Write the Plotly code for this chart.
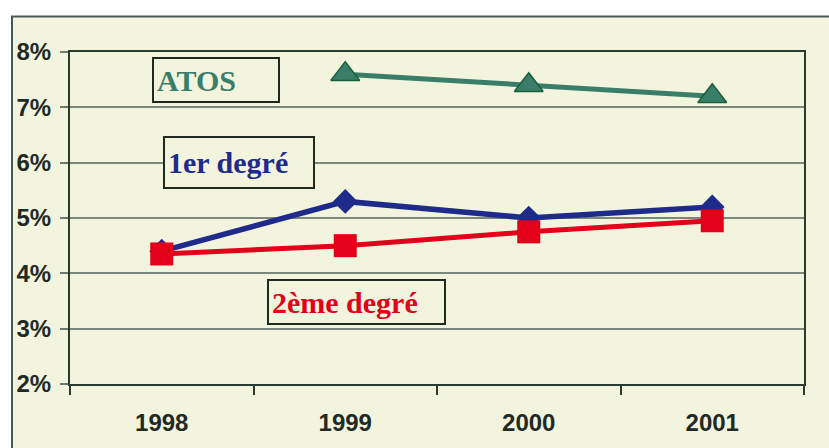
import plotly.graph_objects as go

years = ["1998", "1999", "2000", "2001"]
atos = [None, 7.6, 7.4, 7.2]
premier_degre = [4.4, 5.3, 5.0, 5.2]
second_degre = [4.35, 4.5, 4.75, 4.95]
y_ticks = [2, 3, 4, 5, 6, 7, 8]
y_tick_text = [f"{v}%" for v in y_ticks]

CREAM = "#F3F4DE"
DARK = "#2B3A30"
GREEN = "#3A7E6A"
BLUE = "#1F2B8A"
RED = "#E2001A"

W, H = 829, 448
L, R, T, B = 70, 25, 52, 64
pw, ph = W - L - R, H - T - B

def px(x):
    return (x - L) / pw

def py(y):
    return 1 - (y - T) / ph

fig = go.Figure()
fig.add_trace(go.Scatter(x=years, y=premier_degre, mode="lines+markers",
                         line=dict(color=BLUE, width=5.5),
                         marker=dict(symbol="diamond", size=19, color=BLUE),
                         showlegend=False, cliponaxis=False))
fig.add_trace(go.Scatter(x=years, y=second_degre, mode="lines+markers",
                         line=dict(color=RED, width=5),
                         marker=dict(symbol="square", size=23, color=RED),
                         showlegend=False, cliponaxis=False))
fig.add_trace(go.Scatter(x=years, y=atos, mode="lines+markers",
                         line=dict(color=GREEN, width=5),
                         marker=dict(symbol="triangle-up", size=25, color=GREEN,
                                     line=dict(color="#17603A", width=1.5)),
                         showlegend=False, cliponaxis=False))

# outer cream frame
fig.add_shape(type="rect", xref="paper", yref="paper",
              x0=px(12), x1=px(W + 20), y0=py(H + 20), y1=py(16.5),
              fillcolor=CREAM, line=dict(color="#4A5A50", width=2), layer="below")

boxes = [
    ("ATOS", GREEN, 151.7, 279.3, 56.7, 102.7),
    ("1er degré", BLUE, 163, 315.3, 136, 188.7),
    ("2ème degré", RED, 267.3, 446, 278.7, 324.7),
]
for text, col, x0, x1, y0, y1 in boxes:
    fig.add_annotation(xref="paper", yref="paper",
                       x=px((x0 + x1) / 2), y=py((y0 + y1) / 2),
                       xanchor="center", yanchor="middle",
                       text=text, showarrow=False, align="left",
                       width=x1 - x0 - 10, height=y1 - y0 - 10,
                       borderpad=3, borderwidth=2, bordercolor="#1F2A22",
                       bgcolor=CREAM,
                       font=dict(family="Liberation Serif, Times New Roman, serif",
                                 size=30, color=col, weight="bold"))

tickfont = dict(family="Liberation Sans, Arial, sans-serif", size=24,
                color="#1F2A24", weight="bold")

fig.update_xaxes(type="category", tickson="boundaries", ticks="outside", ticklen=9,
                 tickwidth=1.5, tickcolor=DARK, showgrid=False,
                 showline=True, linecolor=DARK, linewidth=2, mirror=True,
                 tickfont=tickfont, ticklabelstandoff=16,
                 range=[-0.5, 3.5])
fig.update_yaxes(range=[2, 8], tickvals=y_ticks, ticktext=y_tick_text,
                 ticks="outside", ticklen=8, tickwidth=1.5, tickcolor="#6E7A6E",
                 showgrid=True, gridcolor="#7C877C", gridwidth=1.5,
                 showline=True, linecolor=DARK, linewidth=2, mirror=True,
                 tickfont=tickfont, ticklabelstandoff=4, zeroline=False)

fig.update_layout(width=W, height=H, margin=dict(l=L, r=R, t=T, b=B),
                  paper_bgcolor="white", plot_bgcolor="rgba(0,0,0,0)")

fig.write_html("out.html", config={"displayModeBar": False},
               post_script="document.body.style.margin='0';document.body.style.overflow='hidden';")
